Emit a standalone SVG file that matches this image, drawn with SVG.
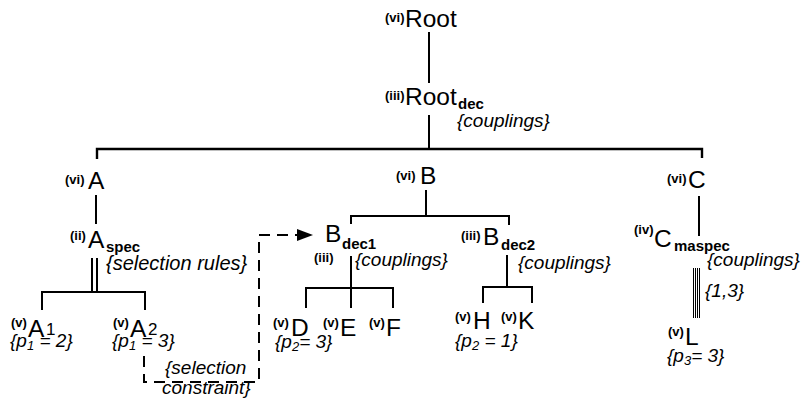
<svg xmlns="http://www.w3.org/2000/svg" width="808" height="405" viewBox="0 0 808 405">
<style>
text{font-family:"Liberation Sans",Arial,sans-serif;fill:#000}
.lbl{font-size:13px;font-weight:bold}
.m{font-size:24.5px}
.s{font-size:15px;font-weight:bold}
.n{font-size:17px}
.it{font-size:19px;font-style:italic}
.is{font-size:13px;font-style:italic}
.ln{stroke:#000;stroke-width:2;fill:none}
.thin{stroke:#000;stroke-width:1;fill:none}
.dash{stroke:#000;stroke-width:2;fill:none;stroke-dasharray:11 7}
</style>
<defs>
<marker id="arr" markerUnits="userSpaceOnUse" markerWidth="18" markerHeight="14" refX="3" refY="6" orient="auto">
<path d="M0,0 L16,6 L0,12 z" fill="#000"/>
</marker>
</defs>
<rect width="808" height="405" fill="#fff"/>
<g id="connectors">
<path class="ln" d="M429,32 V83"/>
<path class="ln" d="M429,115 V149"/>
<path class="ln" d="M97,159 V149 H702 V158" style="stroke-width:2.4"/>
<path class="ln" d="M96,195 V224"/>
<path class="ln" d="M92,258 V292 M97,258 V292"/>
<path class="ln" d="M42,310 V292 H145 V310"/>
<path class="ln" d="M426,190 V216"/>
<path class="ln" d="M351,224 V216 H509 V225"/>
<path class="ln" d="M351,256 V308"/>
<path class="ln" d="M306,308 V288 H393 V308"/>
<path class="ln" d="M507,255 V287"/>
<path class="ln" d="M483,303 V287 H532 V303"/>
<path class="ln" d="M699,196 V236"/>
<path class="thin" d="M693.5,268 V318 M695.5,268 V318 M697.5,268 V318 M699.5,268 V318"/>
<path class="dash" d="M144,356 V382 H259 V235 H300" marker-end="url(#arr)"/>
</g>
<g id="root">
<text class="lbl" x="385" y="22">(vi)</text>
<text class="m" x="405" y="27">Root</text>
</g>
<g id="root-dec">
<text class="lbl" x="385" y="100">(iii)</text>
<text class="m" x="405" y="105">Root</text>
<text class="s" x="458" y="109">dec</text>
<text class="it" x="457" y="127">{couplings}</text>
</g>
<g id="A">
<text class="lbl" x="65" y="184">(vi)</text>
<text class="m" x="88" y="189">A</text>
</g>
<g id="A-spec">
<text class="lbl" x="70" y="240">(ii)</text>
<text class="m" x="88" y="248">A</text>
<text class="s" x="106" y="252">spec</text>
<text class="it" x="106" y="270" style="font-size:20px">{selection rules}</text>
</g>
<g id="A1">
<text class="lbl" x="11" y="327">(v)</text>
<text class="m" x="28" y="337">A</text>
<text class="n" x="46" y="335">1</text>
<text class="it" x="10" y="347">{p<tspan class="is" dy="3">1</tspan><tspan dy="-3"> = 2}</tspan></text>
</g>
<g id="A2">
<text class="lbl" x="113" y="327">(v)</text>
<text class="m" x="130" y="337">A</text>
<text class="n" x="148" y="335">2</text>
<text class="it" x="112" y="347">{p<tspan class="is" dy="3">1</tspan><tspan dy="-3"> = 3}</tspan></text>
</g>
<g id="selection-constraint">
<text class="it" x="165" y="374">{selection</text>
<text class="it" x="162" y="394">constraint}</text>
</g>
<g id="B">
<text class="lbl" x="396" y="180">(vi)</text>
<text class="m" x="420" y="184">B</text>
</g>
<g id="B-dec1">
<text class="m" x="325" y="242">B</text>
<text class="s" x="342" y="249">dec1</text>
<text class="lbl" x="314" y="262">(iii)</text>
<text class="it" x="355" y="266">{couplings}</text>
</g>
<g id="B-dec2">
<text class="lbl" x="461" y="240">(iii)</text>
<text class="m" x="483" y="245">B</text>
<text class="s" x="501" y="250">dec2</text>
<text class="it" x="518" y="269">{couplings}</text>
</g>
<g id="D">
<text class="lbl" x="273" y="327">(v)</text>
<text class="m" x="291" y="336">D</text>
<text class="it" x="275" y="348">{p<tspan class="is" dy="3">2</tspan><tspan dy="-3">= 3}</tspan></text>
</g>
<g id="E">
<text class="lbl" x="323" y="327">(v)</text>
<text class="m" x="340" y="336">E</text>
</g>
<g id="F">
<text class="lbl" x="369" y="327">(v)</text>
<text class="m" x="386" y="336">F</text>
</g>
<g id="H">
<text class="lbl" x="455" y="321">(v)</text>
<text class="m" x="473" y="329">H</text>
<text class="it" x="455" y="347">{p<tspan class="is" dy="3">2</tspan><tspan dy="-3"> = 1}</tspan></text>
</g>
<g id="K">
<text class="lbl" x="501" y="321">(v)</text>
<text class="m" x="518" y="329">K</text>
</g>
<g id="C">
<text class="lbl" x="667" y="183">(vi)</text>
<text class="m" x="688" y="188">C</text>
</g>
<g id="C-maspec">
<text class="lbl" x="634" y="234">(iv)</text>
<text class="m" x="654" y="247">C</text>
<text class="s" x="674" y="251">maspec</text>
<text class="it" x="707" y="266">{couplings}</text>
<text class="it" x="705" y="297">{1,3}</text>
</g>
<g id="L">
<text class="lbl" x="668" y="336">(v)</text>
<text class="m" x="685" y="345">L</text>
<text class="it" x="667" y="362">{p<tspan class="is" dy="3">3</tspan><tspan dy="-3">= 3}</tspan></text>
</g>
</svg>
